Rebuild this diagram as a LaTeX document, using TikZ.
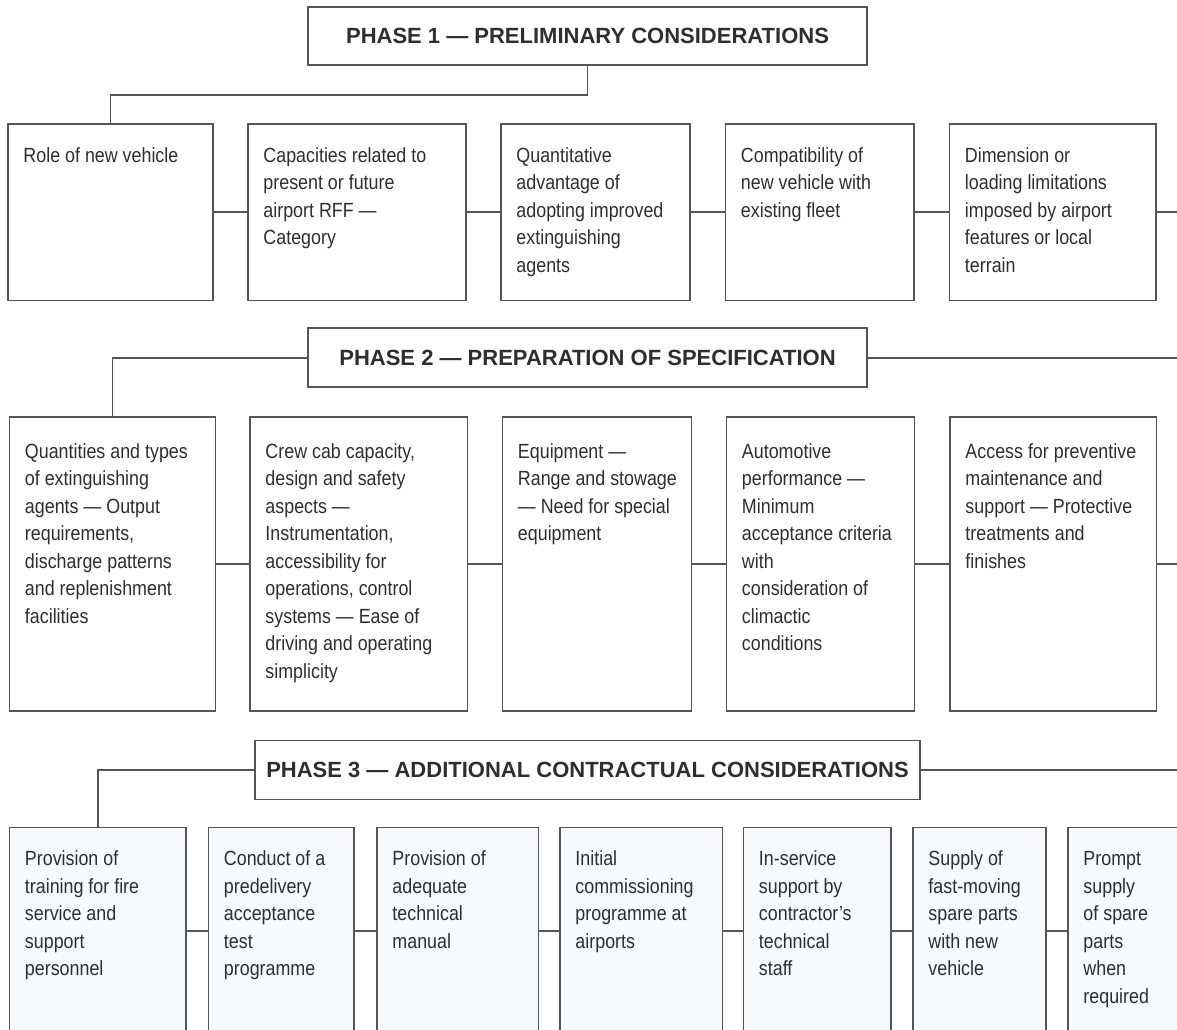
\documentclass[tikz,border=0pt]{standalone}
\usepackage{fontspec}
\setmainfont{Liberation Sans}
\newfontfamily\cardfont[FakeStretch=0.87]{Liberation Sans}
\usetikzlibrary{calc}

\definecolor{inkgray}{HTML}{2E2E2E}
\definecolor{rulegray}{HTML}{555555}
\definecolor{cardfill}{HTML}{F6FAFD}

\newcommand{\cdrop}{19.5}
\newcommand{\card}[7][]{%
  \node[card, #1, minimum width={(#5-#3)*0.75pt}, minimum height={(#6-#4)*0.75pt}] (#2) at ({(#3+#5)/2},{(#4+#6)/2}) {};
  \node[cardtext] (#2t) at ($(#2.north west)+(16,\cdrop)$) {#7};
}

\begin{document}
\begin{tikzpicture}[x=0.75pt, y=-0.75pt,
    phase/.style={draw=rulegray, line width=1.2pt, inner sep=0pt, text=inkgray,
      font=\bfseries\fontsize{16.5pt}{19pt}\selectfont},
    card/.style={draw=rulegray, line width=1.2pt, inner sep=0pt},
    cardtext/.style={anchor=north west, align=flush left, text width={185*0.75pt}, inner sep=0pt, text=inkgray,
      font=\cardfont\fontsize{15.4pt}{20.6pt}\selectfont, execute at begin node=\strut},
    link/.style={draw=rulegray, line width=1.2pt}]
        \clip (0,0) rectangle (1177,1029);
        \coordinate (rim) at (1177,0);

        \node[phase, minimum width={559*0.75pt}, minimum height={58*0.75pt}] (ph1) at (587.5,36) {PHASE 1 — PRELIMINARY CONSIDERATIONS};
        \node[phase, minimum width={559*0.75pt}, minimum height={59*0.75pt}] (ph2) at (587.5,357.7) {PHASE 2 — PREPARATION OF SPECIFICATION};
        \node[phase, minimum width={665*0.75pt}, minimum height={59*0.75pt}] (ph3) at (587.5,770) {PHASE 3 — ADDITIONAL CONTRACTUAL CONSIDERATIONS};

        \card{a1}{8}{124}{213}{300.5}{Role of new vehicle}
        \card{a2}{248}{124}{466}{300.5}{Capacities related to\\present or future\\airport RFF —\\Category}
        \card{a3}{501}{124}{690}{300.5}{Quantitative\\advantage of\\adopting improved\\extinguishing\\agents}
        \card{a4}{725.5}{124}{914}{300.5}{Compatibility of\\new vehicle with\\existing fleet}
        \card{a5}{949.5}{124}{1156}{300.5}{Dimension or\\loading limitations\\imposed by airport\\features or local\\terrain}

        \renewcommand{\cdrop}{23}
        \card{b1}{9.5}{416.7}{215.5}{710.7}{Quantities and types\\of extinguishing\\agents — Output\\requirements,\\discharge patterns\\and replenishment\\facilities}
        \card{b2}{250}{416.7}{467.5}{710.7}{Crew cab capacity,\\design and safety\\aspects —\\Instrumentation,\\accessibility for\\operations, control\\systems — Ease of\\driving and operating\\simplicity}
        \card{b3}{502.5}{416.7}{691.5}{710.7}{Equipment —\\Range and stowage\\— Need for special\\equipment}
        \card{b4}{726.5}{416.7}{914.5}{710.7}{Automotive\\performance —\\Minimum\\acceptance criteria\\with\\consideration of\\climactic\\conditions}
        \card{b5}{950}{416.7}{1156.5}{710.7}{Access for preventive\\maintenance and\\support — Protective\\treatments and\\finishes}

        \renewcommand{\cdrop}{19.5}
        \card[fill=cardfill]{c1}{9.5}{827.5}{186}{1034}{Provision of\\training for fire\\service and\\support\\personnel}
        \card[fill=cardfill]{c2}{208.5}{827.5}{354}{1034}{Conduct of a\\predelivery\\acceptance\\test\\programme}
        \card[fill=cardfill]{c3}{377}{827.5}{538.5}{1034}{Provision of\\adequate\\technical\\manual}
        \card[fill=cardfill]{c4}{560}{827.5}{722.5}{1034}{Initial\\commissioning\\programme at\\airports}
        \card[fill=cardfill]{c5}{743.5}{827.5}{891}{1034}{In-service\\support by\\contractor’s\\technical\\staff}
        \card[fill=cardfill]{c6}{913}{827.5}{1046}{1034}{Supply of\\fast-moving\\spare parts\\with new\\vehicle}
        \card[fill=cardfill]{c7}{1068}{827.5}{1240}{1034}{Prompt\\supply\\of spare\\parts\\when\\required}

        \draw[link] (ph1.south) -- ++(0,29) -| (a1.north);
        \draw[link] (ph2.west) -| (b1.north);
        \draw[link] (ph2.east) -- (ph2.east -| rim);
        \draw[link] (ph3.west) -| (c1.north);
        \draw[link] (ph3.east) -- (ph3.east -| rim);

        \foreach \i/\j in {a1/a2,a2/a3,a3/a4,a4/a5,b1/b2,b2/b3,b3/b4,b4/b5,c1/c2,c2/c3,c3/c4,c4/c5,c5/c6,c6/c7}
            \draw[link] (\i.east) -- (\j.west);
        \draw[link] (a5.east) -- (a5.east -| rim);
        \draw[link] (b5.east) -- (b5.east -| rim);
    \end{tikzpicture}
\end{document}
